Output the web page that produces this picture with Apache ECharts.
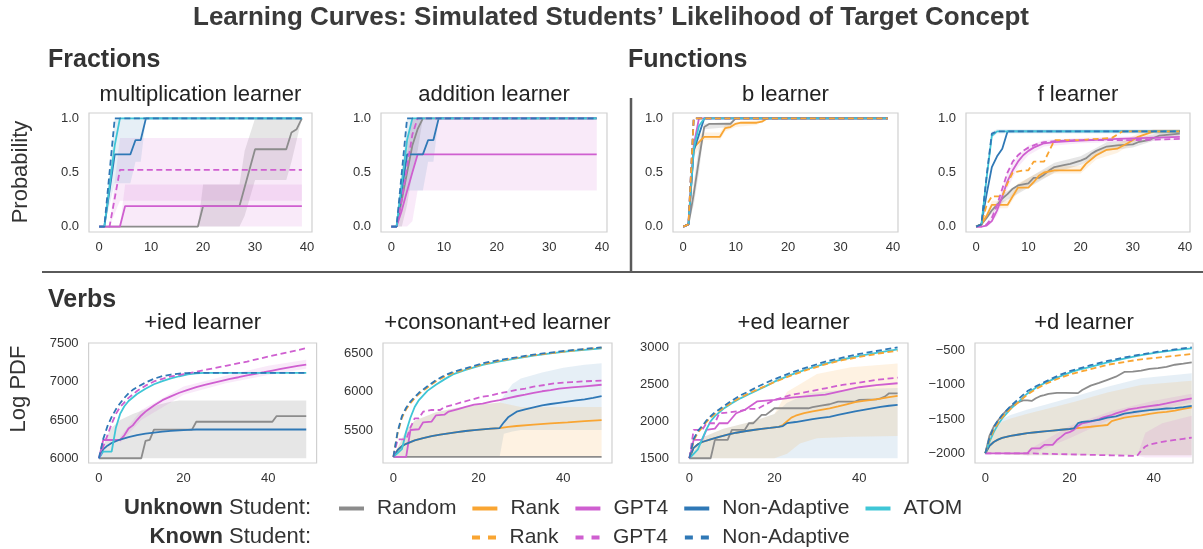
<!DOCTYPE html>
<html><head><meta charset="utf-8">
<script src="https://cdn.jsdelivr.net/npm/echarts@6/dist/echarts.min.js"></script>
<style>html,body{margin:0;padding:0;background:#fff}#c{width:1203px;height:549px}</style>
</head><body><div id="c"></div>
<script>
// ---------- tick labels ----------
const xTicksTop = [0, 10, 20, 30, 40];
const xTicksBottom = [0, 20, 40];
const yTicksProb = [0, 0.5, 1];
const yTicksIed = [6000, 6500, 7000, 7500];
const yTicksCe = [5500, 6000, 6500];
const yTicksEd = [1500, 2000, 2500, 3000];
const yTicksD = [-2000, -1500, -1000, -500];

// ---------- Fractions: multiplication learner ----------
const mulRandom = [[0,0],[19,0],[20,0.19],[27,0.19],[30,0.715],[36,0.715],[37,0.87],[38,0.9],[39,1]];
const mulGPT4 = [[0,0],[4,0],[5,0.19],[39,0.19]];
const mulNA = [[0,0],[1,0],[3,0.667],[6,0.667],[7,0.8],[8,0.8],[9,1],[39,1]];
const mulATOM = [[0,0],[1,0],[3,0.75],[4,1],[39,1]];
const mulGPT4K = [[0,0],[2,0],[4,0.525],[39,0.525]];
const mulNAK = [[0,0],[1,0],[3,1],[39,1]];
const mulRandomBand = [[0,0,0],[19,0,0],[20,0,0.39],[27,0,0.39],[28,0.1,0.7],[30,0.43,1],[36,0.43,1],[37,0.6,1],[39,1,1]];
const mulGPT4Band = [[4,0,0],[5,0,0.39],[39,0,0.39]];
const mulGPT4KBand = [[2,0,0],[4,0.24,0.82],[39,0.24,0.82]];
const mulNABand = [[1,0,0],[3,0.4,1],[6,0.4,1],[7,0.6,1],[8,0.6,1],[9,1,1]];

// ---------- Fractions: addition learner ----------
const addRandom = [[0,0],[1,0],[2,0.25],[3,0.5],[4,0.75],[5,0.9],[6,1],[39,1]];
const addGPT4 = [[0,0],[1,0],[2,0.15],[3,0.33],[4,0.5],[5,0.667],[39,0.667]];
const addNA = [[0,0],[1,0],[3,0.667],[6,0.667],[7,0.8],[8,0.8],[9,1],[39,1]];
const addATOM = [[0,0],[1,0],[2,0.4],[3,0.8],[4,1],[39,1]];
const addGPT4K = [[0,0],[1,0],[2,0.25],[3,0.55],[4,0.85],[5,1],[39,1]];
const addNAK = [[0,0],[1,0],[3,1],[39,1]];
const addRandomBand = [[1,0,0],[2,0,0.5],[3,0.2,0.8],[4,0.5,1],[5,0.7,1],[6,1,1]];
const addGPT4Band = [[1,0,0],[2,0,0.3],[3,0,0.67],[4,0.05,1],[5,0.333,1],[39,0.333,1]];
const addNABand = [[1,0,0],[3,0.333,1],[6,0.333,1],[7,0.6,1],[8,0.6,1],[9,1,1]];

// ---------- Functions: b learner ----------
const bRandom = [[0,0],[1,0.02],[2,0.3],[3,0.62],[4,0.92],[5,0.95],[9,0.95],[10,1],[39,1]];
const bRank = [[0,0],[1,0.02],[2,0.73],[3,0.78],[4,0.83],[7,0.83],[8,0.91],[9,0.92],[10,0.95],[11,0.96],[14,0.96],[15,0.97],[16,1],[39,1]];
const bGPT4 = [[0,0],[1,0.02],[2,0.75],[3,1],[39,1]];
const bNA = [[0,0],[1,0.02],[2,0.7],[3,0.85],[4,1],[39,1]];
const bATOM = [[0,0],[1,0.02],[2,0.72],[3,0.93],[4,1],[39,1]];
const bRankK = [[0,0],[1,0.02],[2,1],[39,1]];
const bGPT4K = [[0,0],[1,0.02],[2,1],[39,1]];
const bNAK = [[0,0],[1,0.02],[2,1],[39,1]];
const bRankBand = [[1,0.02,0.02],[2,0.65,0.8],[3,0.72,0.85],[4,0.8,0.87],[7,0.8,0.87],[8,0.88,0.94],[10,0.92,0.97],[14,0.94,0.98],[16,1,1]];
const bRandomBand = [[1,0.02,0.02],[2,0.2,0.4],[3,0.5,0.75],[4,0.9,0.95],[9,0.92,0.97],[10,1,1]];

// ---------- Functions: f learner ----------
const fRandom = [[0,0],[1,0.02],[2,0.08],[3,0.15],[4,0.2],[5,0.26],[6,0.3],[7,0.35],[8,0.38],[10,0.4],[11,0.45],[12,0.45],[13,0.48],[14,0.52],[15,0.55],[17,0.57],[18,0.58],[20,0.61],[21,0.63],[22,0.67],[23,0.7],[25,0.74],[27,0.75],[30,0.76],[31,0.78],[33,0.8],[35,0.84],[37,0.85],[39,0.86]];
const fRank = [[0,0],[1,0.02],[2,0.1],[3,0.2],[6,0.2],[8,0.36],[10,0.36],[11,0.41],[12,0.47],[13,0.5],[15,0.52],[20,0.52],[21,0.58],[23,0.66],[25,0.71],[27,0.72],[29,0.77],[31,0.83],[34,0.88],[39,0.88]];
const fGPT4 = [[0,0],[1,0],[2,0.01],[3,0.05],[4,0.15],[5,0.28],[6,0.42],[7,0.52],[8,0.6],[9,0.66],[10,0.7],[11,0.73],[12,0.75],[13,0.77],[15,0.78],[18,0.79],[22,0.8],[27,0.81],[33,0.82],[39,0.83]];
const fNA = [[0,0],[1,0.02],[2,0.3],[3,0.55],[4,0.65],[5,0.72],[6,0.88],[39,0.88]];
const fATOM = [[0,0],[1,0.02],[2,0.45],[3,0.84],[4,0.88],[39,0.88]];
const fRankK = [[0,0],[1,0.02],[2,0.2],[3,0.28],[5,0.28],[6,0.4],[7,0.5],[9,0.52],[10,0.52],[11,0.6],[13,0.6],[14,0.7],[15,0.8],[20,0.8],[26,0.82],[27,0.85],[28,0.88],[39,0.88]];
const fGPT4K = [[0,0],[1,0],[2,0.02],[3,0.08],[4,0.2],[5,0.35],[6,0.5],[7,0.6],[8,0.66],[9,0.7],[10,0.73],[11,0.75],[12,0.77],[13,0.78],[15,0.79],[20,0.8],[30,0.8],[39,0.81]];
const fNAK = [[0,0],[1,0.02],[2,0.47],[3,0.86],[4,0.88],[39,0.88]];
const fRandomBand = [[1,0.02,0.02],[5,0.22,0.3],[10,0.36,0.45],[15,0.5,0.59],[20,0.57,0.65],[25,0.7,0.78],[30,0.73,0.8],[35,0.81,0.87],[39,0.84,0.89]];
const fRankBand = [[1,0.02,0.02],[3,0.17,0.24],[6,0.17,0.24],[8,0.32,0.4],[12,0.43,0.5],[15,0.49,0.56],[20,0.49,0.56],[23,0.62,0.7],[27,0.68,0.76],[31,0.8,0.86],[34,0.86,0.9],[39,0.86,0.9]];
const fGPT4Band = [[2,0,0.03],[4,0.1,0.2],[6,0.35,0.5],[8,0.55,0.66],[10,0.66,0.75],[13,0.74,0.8],[20,0.77,0.82],[39,0.8,0.85]];
const fNABand = [[1,0.02,0.02],[3,0.82,0.88],[4,0.86,0.9],[39,0.86,0.9]];

// ---------- Verbs: +ied learner ----------
const iedRandom = [[0,6000],[10,6000],[11,6226],[12,6240],[13,6375],[22,6375],[23,6478],[41,6478],[42,6552],[49,6552]];
const iedGPT4 = [[0,6000],[1,6239],[5,6239],[6,6300],[7,6390],[8,6430],[9,6500],[10,6560],[11,6610],[12,6650],[13,6690],[15,6760],[17,6810],[19,6857],[21,6895],[23,6930],[25,6960],[27,6987],[29,7013],[31,7039],[33,7060],[35,7083],[37,7105],[39,7126],[41,7148],[43,7170],[45,7190],[47,7210],[49,7226]];
const iedNA = [[0,6000],[1,6117],[2,6165],[3,6200],[5,6245],[7,6278],[9,6302],[11,6322],[13,6336],[15,6348],[17,6357],[19,6365],[21,6372],[23,6376],[49,6376]];
const iedATOM = [[0,6000],[1,6087],[3,6087],[4,6400],[5,6580],[6,6680],[7,6750],[9,6840],[11,6910],[13,6968],[15,7010],[17,7045],[19,7073],[21,7098],[23,7112],[25,7117],[49,7117]];
const iedGPT4K = [[0,6000],[1,6150],[2,6300],[3,6450],[4,6580],[5,6670],[7,6790],[9,6880],[11,6950],[13,7005],[15,7040],[17,7070],[19,7090],[21,7110],[23,7130],[25,7155],[30,7210],[35,7265],[40,7330],[45,7390],[49,7440]];
const iedNAK = [[0,6000],[1,6250],[2,6420],[3,6540],[4,6640],[5,6720],[6,6790],[7,6850],[8,6895],[9,6930],[11,6990],[13,7040],[15,7075],[17,7095],[19,7108],[21,7115],[23,7117],[49,7117]];
const iedRandomBand = [[0,6000,6000],[1,6000,6150],[2,6000,6300],[3,6000,6400],[5,6000,6500],[8,6000,6580],[11,6000,6640],[14,6000,6700],[17,6000,6740],[19,6000,6757],[49,6000,6757]];
const iedGPT4Band = [[5,6200,6280],[10,6500,6630],[20,6830,6940],[30,6980,7080],[40,7090,7210],[49,7170,7290]];

// ---------- Verbs: +consonant+ed learner ----------
const ceRandom = [[0,5150],[49,5150]];
const ceRank = [[0,5150],[1,5239],[2,5290],[3,5320],[5,5365],[7,5395],[9,5420],[11,5440],[13,5457],[15,5472],[17,5487],[19,5498],[21,5509],[23,5517],[25,5525],[27,5540],[29,5552],[33,5570],[37,5587],[41,5600],[45,5615],[49,5630]];
const ceGPT4 = [[0,5150],[3,5150],[4,5500],[6,5510],[7,5600],[9,5610],[10,5690],[12,5700],[13,5740],[15,5770],[17,5800],[19,5830],[21,5845],[23,5870],[25,5890],[27,5915],[29,5940],[31,5960],[33,5985],[35,6005],[37,6020],[39,6040],[42,6055],[45,6070],[49,6090]];
const ceNA = [[0,5150],[1,5239],[2,5290],[3,5320],[5,5365],[7,5395],[9,5420],[11,5440],[13,5457],[15,5472],[17,5487],[19,5498],[21,5509],[23,5517],[25,5525],[26,5600],[27,5665],[29,5739],[31,5770],[33,5796],[35,5820],[37,5839],[39,5855],[41,5870],[43,5885],[45,5900],[47,5920],[49,5943]];
const ceATOM = [[0,5150],[1,5200],[2,5250],[3,5480],[4,5660],[5,5800],[6,5890],[8,6010],[10,6090],[12,6160],[14,6225],[17,6283],[21,6348],[25,6395],[29,6435],[33,6470],[37,6500],[41,6525],[45,6545],[49,6565]];
const ceRankK = [[0,5150],[1,5460],[2,5660],[3,5770],[4,5850],[5,5915],[6,5970],[8,6055],[10,6135],[12,6195],[14,6242],[17,6292],[21,6358],[25,6403],[29,6440],[33,6475],[37,6502],[41,6528],[45,6552],[49,6575]];
const ceGPT4K = [[0,5150],[1,5378],[3,5378],[4,5530],[5,5652],[6,5652],[7,5739],[9,5761],[11,5761],[12,5800],[14,5826],[16,5860],[18,5891],[21,5935],[23,5950],[25,5978],[27,6000],[29,6022],[31,6040],[33,6065],[36,6090],[38,6109],[42,6125],[45,6135],[49,6143]];
const ceNAK = [[0,5150],[1,5480],[2,5680],[3,5790],[4,5870],[5,5930],[6,5985],[8,6070],[10,6150],[12,6210],[14,6255],[17,6304],[21,6370],[25,6413],[29,6448],[33,6483],[37,6509],[41,6535],[45,6557],[49,6578]];
const ceNABand = [[0,5150,5150],[3,5150,5500],[5,5150,5620],[10,5150,5730],[15,5150,5790],[20,5150,5830],[25,5150,5860],[26,5450,5950],[28,5480,6100],[30,5500,6170],[35,5500,6250],[40,5500,6310],[45,5500,6350],[49,5500,6370]];
const ceRankBand = [[0,5150,5150],[3,5150,5500],[5,5150,5620],[10,5150,5730],[15,5150,5790],[20,5150,5830],[25,5150,5860],[30,5150,5800],[40,5150,5800],[49,5150,5800]];

// ---------- Verbs: +ed learner ----------
const edRandom = [[0,1500],[5,1500],[6,1748],[9,1748],[10,1883],[13,1883],[14,1973],[15,1973],[17,2086],[18,2086],[20,2176],[28,2176],[29,2190],[31,2210],[33,2230],[35,2266],[39,2266],[40,2290],[44,2297],[45,2310],[46,2333],[47,2378],[49,2378]];
const edRank = [[0,1500],[1,1640],[2,1690],[3,1720],[5,1755],[7,1790],[9,1820],[11,1845],[13,1865],[15,1882],[17,1896],[19,1910],[21,1925],[22,1950],[23,2000],[24,2050],[25,2075],[27,2110],[29,2135],[31,2155],[33,2175],[35,2200],[37,2230],[39,2260],[41,2275],[43,2290],[45,2305],[47,2325],[49,2342]];
const edGPT4 = [[0,1500],[1,1748],[3,1748],[4,1883],[6,1900],[7,1973],[9,1973],[11,2108],[13,2153],[16,2270],[20,2288],[24,2320],[28,2340],[32,2360],[36,2410],[40,2460],[44,2490],[49,2514]];
const edNA = [[0,1500],[1,1640],[2,1690],[3,1720],[5,1755],[7,1790],[9,1820],[11,1845],[13,1865],[15,1882],[17,1896],[19,1910],[21,1925],[22,1935],[23,1975],[25,1990],[27,2010],[29,2030],[31,2045],[33,2060],[35,2085],[37,2110],[39,2135],[41,2155],[43,2175],[45,2195],[47,2210],[49,2221]];
const edATOM = [[0,1500],[1,1560],[2,1620],[3,1760],[4,1890],[5,2000],[6,2070],[8,2170],[10,2245],[12,2310],[14,2365],[16,2420],[18,2475],[20,2535],[24,2630],[28,2710],[32,2780],[36,2835],[40,2885],[44,2925],[49,2973]];
const edRankK = [[0,1500],[1,1740],[2,1850],[3,1915],[4,1990],[5,2050],[6,2100],[8,2180],[10,2255],[12,2320],[14,2378],[16,2430],[18,2480],[20,2528],[24,2620],[28,2700],[32,2770],[36,2825],[40,2870],[44,2910],[49,2955]];
const edGPT4K = [[0,1500],[1,1883],[3,1883],[4,1973],[6,1973],[7,2108],[9,2117],[12,2140],[14,2167],[16,2167],[18,2230],[20,2288],[24,2356],[28,2401],[32,2446],[36,2491],[40,2523],[44,2559],[49,2590]];
const edNAK = [[0,1500],[1,1760],[2,1870],[3,1935],[4,2010],[5,2070],[6,2120],[8,2200],[10,2280],[12,2350],[14,2405],[16,2465],[18,2520],[20,2568],[24,2658],[28,2735],[32,2806],[36,2860],[40,2910],[44,2950],[49,3000]];
const edNABand = [[0,1500,1500],[3,1500,1780],[8,1500,1900],[15,1500,2000],[20,1500,2100],[23,1500,2250],[28,1500,2380],[35,1500,2420],[42,1500,2440],[49,1500,2450]];
const edRankBand = [[0,1500,1500],[3,1500,1780],[8,1500,1900],[15,1500,2000],[20,1500,2100],[23,1560,2400],[26,1700,2500],[30,1770,2640],[38,1790,2730],[49,1800,2780]];

// ---------- Verbs: +d learner ----------
const dRandom = [[0,-2000],[1,-1740],[2,-1610],[3,-1520],[4,-1440],[5,-1375],[6,-1320],[7,-1280],[8,-1250],[9,-1225],[10,-1225],[11,-1235],[12,-1196],[13,-1165],[14,-1148],[15,-1130],[17,-1115],[19,-1115],[22,-1120],[23,-1075],[25,-1010],[27,-970],[29,-925],[31,-880],[33,-810],[35,-805],[37,-792],[39,-765],[41,-755],[43,-735],[45,-705],[47,-690],[49,-670]];
const dRank = [[0,-2000],[1,-1890],[2,-1835],[3,-1800],[4,-1775],[6,-1745],[8,-1725],[10,-1705],[12,-1692],[14,-1680],[16,-1668],[18,-1656],[20,-1645],[21,-1637],[22,-1630],[23,-1625],[25,-1612],[27,-1598],[29,-1586],[30,-1530],[31,-1513],[33,-1480],[35,-1460],[37,-1445],[39,-1425],[41,-1406],[43,-1395],[45,-1377],[47,-1350],[49,-1328]];
const dGPT4 = [[0,-2000],[10,-2000],[11,-1927],[13,-1927],[14,-1878],[16,-1878],[17,-1805],[18,-1760],[19,-1708],[20,-1690],[21,-1659],[22,-1600],[23,-1562],[25,-1537],[27,-1500],[28,-1474],[30,-1440],[31,-1416],[33,-1380],[34,-1357],[36,-1340],[37,-1328],[39,-1310],[41,-1294],[43,-1270],[45,-1245],[47,-1220],[49,-1196]];
const dNA = [[0,-2000],[1,-1890],[2,-1835],[3,-1800],[4,-1775],[6,-1745],[8,-1725],[10,-1705],[12,-1692],[14,-1680],[16,-1668],[18,-1656],[20,-1645],[21,-1637],[22,-1560],[23,-1540],[25,-1530],[27,-1510],[29,-1480],[31,-1460],[33,-1420],[35,-1400],[37,-1383],[39,-1370],[41,-1357],[43,-1345],[45,-1340],[47,-1325],[49,-1308]];
const dATOM = [[0,-2000],[1,-1830],[2,-1690],[3,-1580],[4,-1490],[5,-1420],[6,-1350],[8,-1240],[10,-1125],[12,-1040],[14,-975],[16,-920],[18,-870],[20,-820],[22,-780],[25,-735],[29,-670],[33,-615],[37,-565],[41,-525],[45,-490],[49,-466]];
const dRankK = [[0,-2000],[1,-1800],[2,-1660],[3,-1560],[4,-1475],[5,-1410],[6,-1350],[8,-1245],[10,-1140],[12,-1060],[14,-995],[16,-940],[18,-890],[20,-850],[22,-815],[25,-770],[29,-705],[33,-665],[37,-625],[41,-600],[45,-575],[49,-548]];
const dGPT4K = [[0,-2000],[10,-2000],[20,-2015],[30,-2030],[36,-2039],[37,-1960],[38,-1900],[39,-1870],[41,-1844],[43,-1822],[45,-1805],[47,-1788],[49,-1771]];
const dNAK = [[0,-2000],[1,-1770],[2,-1620],[3,-1520],[4,-1440],[5,-1375],[6,-1310],[8,-1200],[10,-1090],[12,-1020],[14,-960],[16,-900],[18,-845],[20,-800],[22,-765],[25,-712],[29,-650],[33,-597],[37,-555],[41,-514],[45,-480],[49,-451]];
const dNABand = [[0,-2000,-2000],[1,-2000,-1750],[2,-2000,-1610],[4,-2010,-1500],[6,-2020,-1440],[10,-2030,-1360],[14,-2030,-1294],[21,-2030,-1172],[25,-2030,-1099],[29,-2030,-1026],[37,-2030,-904],[49,-2030,-831]];
const dRankBand = [[0,-2000,-2000],[1,-2000,-1780],[2,-2000,-1650],[4,-2010,-1540],[6,-2020,-1490],[10,-2030,-1420],[14,-2030,-1360],[21,-2030,-1250],[25,-2030,-1180],[29,-2030,-1110],[37,-2030,-1000],[49,-2030,-940]];
const dGPT4Band = [[10,-2040,-1960],[20,-1780,-1600],[30,-1500,-1380],[40,-1370,-1230],[49,-1260,-1130]];
const dGPT4KBand = [[36,-2040,-2040],[38,-2060,-1700],[42,-2060,-1560],[49,-2060,-1450]];

// ---------- layout / style (not data) ----------
const FONT = '"Liberation Sans", Arial, Helvetica, sans-serif';
const COLORS = {random:'#8c8c8c', rank:'#f9a532', gpt4:'#cf5fd0', na:'#2f78b6', atom:'#3fc6d6'};
const BANDFILL = {random:'rgba(128,128,128,0.2)', rank:'rgba(249,165,50,0.14)', gpt4:'rgba(207,95,208,0.13)', na:'rgba(46,120,183,0.12)', atom:'rgba(62,198,213,0.15)'};
const NAMES = {random:'Random', rank:'Rank', gpt4:'GPT4', na:'Non-Adaptive', atom:'ATOM', rankK:'Rank (known)', gpt4K:'GPT4 (known)', naK:'Non-Adaptive (known)'};

const topY = 113, topH = 119, botY = 343, botH = 120;
const panels = [
  {title:'multiplication learner', box:[89,topY,223,topH], xr:[-1.95,40.95], xt:xTicksTop, yr:[-0.05,1.05], yt:yTicksProb, prob:true,
   lines:{random:mulRandom,gpt4:mulGPT4,na:mulNA,atom:mulATOM,gpt4K:mulGPT4K,naK:mulNAK},
   bands:[['random',mulRandomBand],['gpt4',mulGPT4Band],['gpt4',mulGPT4KBand],['na',mulNABand]]},
  {title:'addition learner', box:[381,topY,226,topH], xr:[-1.95,40.95], xt:xTicksTop, yr:[-0.05,1.05], yt:yTicksProb, prob:true,
   lines:{random:addRandom,gpt4:addGPT4,na:addNA,atom:addATOM,gpt4K:addGPT4K,naK:addNAK},
   bands:[['random',addRandomBand],['gpt4',addGPT4Band],['na',addNABand]]},
  {title:'b learner', box:[673,topY,225,topH], xr:[-1.95,40.95], xt:xTicksTop, yr:[-0.05,1.05], yt:yTicksProb, prob:true,
   lines:{random:bRandom,rank:bRank,gpt4:bGPT4,na:bNA,atom:bATOM,gpt4K:bGPT4K,naK:bNAK,rankK:bRankK},
   bands:[['random',bRandomBand],['rank',bRankBand]]},
  {title:'f learner', box:[966,topY,224,topH], xr:[-1.95,40.95], xt:xTicksTop, yr:[-0.05,1.05], yt:yTicksProb, prob:true,
   lines:{random:fRandom,rank:fRank,gpt4:fGPT4,na:fNA,atom:fATOM,rankK:fRankK,gpt4K:fGPT4K,naK:fNAK},
   bands:[['random',fRandomBand],['rank',fRankBand],['gpt4',fGPT4Band],['na',fNABand]]},
  {title:'+ied learner', box:[88.6,botY,228,botH], xr:[-2.45,51.45], xt:xTicksBottom, yr:[5938,7508], yt:yTicksIed,
   lines:{random:iedRandom,gpt4:iedGPT4,na:iedNA,atom:iedATOM,gpt4K:iedGPT4K,naK:iedNAK},
   bands:[['random',iedRandomBand],['gpt4',iedGPT4Band]]},
  {title:'+consonant+ed learner', box:[383,botY,229,botH], xr:[-2.45,51.45], xt:xTicksBottom, yr:[5070,6634], yt:yTicksCe,
   lines:{random:ceRandom,rank:ceRank,gpt4:ceGPT4,na:ceNA,atom:ceATOM,rankK:ceRankK,gpt4K:ceGPT4K,naK:ceNAK},
   bands:[['na',ceNABand],['rank',ceRankBand]]},
  {title:'+ed learner', box:[679,botY,229,botH], xr:[-2.45,51.45], xt:xTicksBottom, yr:[1436,3058], yt:yTicksEd,
   lines:{random:edRandom,rank:edRank,gpt4:edGPT4,na:edNA,atom:edATOM,rankK:edRankK,gpt4K:edGPT4K,naK:edNAK},
   bands:[['na',edNABand],['rank',edRankBand]]},
  {title:'+d learner', box:[975,botY,218,botH], xr:[-2.45,49.3], xt:xTicksBottom, yr:[-2142,-387], yt:yTicksD,
   lines:{random:dRandom,rank:dRank,gpt4:dGPT4,na:dNA,atom:dATOM,rankK:dRankK,gpt4K:dGPT4K,naK:dNAK},
   bands:[['na',dNABand],['rank',dRankBand],['gpt4',dGPT4Band],['gpt4',dGPT4KBand]]}
];

const grid = [], xAxis = [], yAxis = [], series = [], graphic = [];
panels.forEach((p, i) => {
  const [l, t, w, h] = p.box;
  grid.push({left:l, top:t, width:w, height:h, show:true, borderColor:'#d0d0d0', borderWidth:1.2, backgroundColor:'transparent'});
  xAxis.push({gridIndex:i, type:'value', min:p.xr[0], max:p.xr[1],
    axisLine:{show:false}, axisTick:{show:false}, splitLine:{show:false},
    axisLabel:{customValues:p.xt, fontSize:13, color:'#333', margin:9, fontFamily:FONT}});
  yAxis.push({gridIndex:i, type:'value', min:p.yr[0], max:p.yr[1],
    axisLine:{show:false}, axisTick:{show:false}, splitLine:{show:false},
    axisLabel:{customValues:p.yt, fontSize:13, color:'#333', margin:10, fontFamily:FONT,
      formatter: p.prob ? (v => v.toFixed(1)) : (v => String(v).replace('-', '\u2212'))}});
  // confidence bands
  p.bands.forEach(([key, band]) => {
    const fill = BANDFILL[key];
    series.push({type:'custom', xAxisIndex:i, yAxisIndex:i, silent:true, z:1,
      data: band, encode:{x:0, y:[1,2]},
      renderItem: (params, api) => {
        if (params.dataIndex !== 0) return null;
        const up = band.map(d => api.coord([d[0], d[2]]));
        const lo = band.map(d => api.coord([d[0], d[1]])).reverse();
        return {type:'polygon', shape:{points: up.concat(lo)}, style:{fill: fill}};
      }});
  });
  // lines (drawn in the object's key order)
  Object.keys(p.lines).forEach(key => {
    const data = p.lines[key];
    const dashed = key.endsWith('K');
    const base = dashed ? key.slice(0, -1) : key;
    series.push({type:'line', name:NAMES[key], xAxisIndex:i, yAxisIndex:i, data:data,
      symbol:'none', showSymbol:false, z:3, clip:true,
      itemStyle:{color:COLORS[base]},
      lineStyle:{color:COLORS[base], width:1.8, type: dashed ? [6,3.5] : 'solid'}});
  });
  graphic.push({type:'text', x: l + w/2, y: (i < 4 ? 95 : 323),
    style:{text:p.title, font:'22px ' + FONT, fill:'#222', align:'center', verticalAlign:'middle', textAlign:'center', textVerticalAlign:'middle'}});
});

// figure-level texts and separators
graphic.push(
  {type:'text', x:611, y:18, style:{text:'Learning Curves: Simulated Students\u2019 Likelihood of Target Concept', font:'bold 26px ' + FONT, fill:'#3a3a3a', align:'center', verticalAlign:'middle', textAlign:'center', textVerticalAlign:'middle'}},
  {type:'text', x:48, y:60, style:{text:'Fractions', font:'bold 25px ' + FONT, fill:'#333', align:'left', verticalAlign:'middle', textAlign:'left', textVerticalAlign:'middle'}},
  {type:'text', x:628, y:60, style:{text:'Functions', font:'bold 25px ' + FONT, fill:'#333', align:'left', verticalAlign:'middle', textAlign:'left', textVerticalAlign:'middle'}},
  {type:'text', x:48, y:300, style:{text:'Verbs', font:'bold 25px ' + FONT, fill:'#333', align:'left', verticalAlign:'middle', textAlign:'left', textVerticalAlign:'middle'}},
  {type:'text', x:21, y:172, rotation:Math.PI/2, style:{text:'Probability', font:'22px ' + FONT, fill:'#333', align:'center', verticalAlign:'middle', textAlign:'center', textVerticalAlign:'middle'}},
  {type:'text', x:19, y:389, rotation:Math.PI/2, style:{text:'Log PDF', font:'22px ' + FONT, fill:'#333', align:'center', verticalAlign:'middle', textAlign:'center', textVerticalAlign:'middle'}},
  {type:'line', shape:{x1:42, y1:272, x2:1203, y2:272}, style:{stroke:'#5a5a5a', lineWidth:2}},
  {type:'line', shape:{x1:631, y1:98, x2:631, y2:271}, style:{stroke:'#5a5a5a', lineWidth:2.5}},
  {type:'text', x:311, y:508, style:{text:'{b|Unknown} Student:', font:'22px ' + FONT, fill:'#333', align:'right', verticalAlign:'middle', textAlign:'right', textVerticalAlign:'middle',
    rich:{b:{fontWeight:'bold', fontSize:22, fontFamily:FONT, fill:'#333', color:'#333'}}}},
  {type:'text', x:311, y:537, style:{text:'{b|Known} Student:', font:'22px ' + FONT, fill:'#333', align:'right', verticalAlign:'middle', textAlign:'right', textVerticalAlign:'middle',
    rich:{b:{fontWeight:'bold', fontSize:22, fontFamily:FONT, fill:'#333', color:'#333'}}}}
);

const stripKnown = n => n.replace(' (known)', '');
const option = {
  animation:false,
  backgroundColor:'#ffffff',
  grid, xAxis, yAxis, series, graphic,
  legend:[
    {data:['Random','Rank','GPT4','Non-Adaptive','ATOM'], left:337, top:498, padding:0, itemWidth:25, itemHeight:14, itemGap:14,
     selectedMode:false, formatter:stripKnown, lineStyle:{width:4}, itemStyle:{opacity:0},
     textStyle:{fontSize:21, color:'#333', fontFamily:FONT, padding:[0,0,0,8]}},
    {data:['Rank (known)','GPT4 (known)','Non-Adaptive (known)'], left:472, top:527, padding:0, itemWidth:25, itemHeight:4, itemGap:17,
     icon:'path://M0,0H8V4H0Z M16,0H24V4H16Z',
     selectedMode:false, formatter:stripKnown,
     textStyle:{fontSize:21, color:'#333', fontFamily:FONT, padding:[0,0,0,8]}}
  ]
};
const chart = echarts.init(document.getElementById('c'), null, {renderer:'canvas'});
chart.setOption(option);
</script></body></html>
